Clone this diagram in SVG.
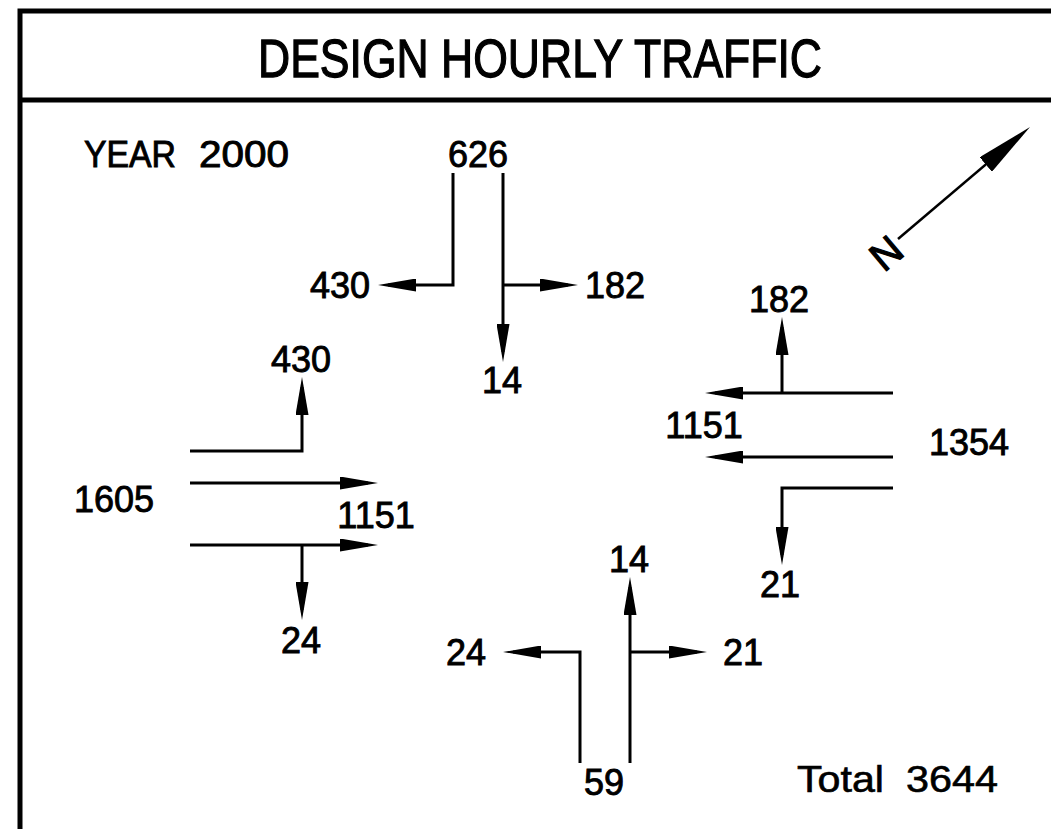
<svg xmlns="http://www.w3.org/2000/svg" width="1051" height="829" viewBox="0 0 1051 829">
<style>
  .t { font-family: "Liberation Sans", Arial, sans-serif; font-size: 36px; fill: #000; stroke: #000; stroke-width: 0.9; text-anchor: middle; }
  .s { text-anchor: start; }
  .title { font-family: "Liberation Sans", Arial, sans-serif; font-size: 54px; fill: #000; stroke: #000; stroke-width: 1.3; text-anchor: middle; }
  .frame { fill: none; stroke: #000; stroke-width: 5; }
  .flow { fill: none; stroke: #000; stroke-width: 3; marker-end: url(#ah); }
</style>
<defs>
  <marker id="ah" markerUnits="userSpaceOnUse" viewBox="0 0 38 13" markerWidth="38" markerHeight="13" refX="28" refY="6.5" orient="auto">
    <path d="M0,0 L38,6.5 L0,13 Z" fill="#000"/>
  </marker>
  <marker id="ahN" markerUnits="userSpaceOnUse" viewBox="0 0 58 19" markerWidth="58" markerHeight="19" refX="46" refY="9.5" orient="auto">
    <path d="M0,0 L58,9.5 L0,19 Z" fill="#000"/>
  </marker>
</defs>
<rect width="1051" height="829" fill="#fff"/>
<g id="frame">
  <path class="frame" d="M20,829 V11 H1051"/>
  <line class="frame" x1="20" y1="100" x2="1051" y2="100"/>
  <text class="title" x="540" y="77" textLength="564" lengthAdjust="spacingAndGlyphs">DESIGN HOURLY TRAFFIC</text>
</g>
<g id="labels">
  <text class="t s" x="84" y="167"><tspan textLength="92" lengthAdjust="spacingAndGlyphs">YEAR</tspan> <tspan x="199" textLength="90" lengthAdjust="spacingAndGlyphs">2000</tspan></text>
  <text class="t s" x="797" y="792" style="stroke-width:0.6"><tspan textLength="87" lengthAdjust="spacingAndGlyphs">Total</tspan> <tspan x="906" textLength="92" lengthAdjust="spacingAndGlyphs">3644</tspan></text>
</g>
<g id="north">
  <line x1="898" y1="239" x2="1020.85" y2="134.76" stroke="#000" stroke-width="2.5" marker-end="url(#ahN)"/>
  <text class="t" transform="translate(886,253) rotate(-40)" x="0" y="14" style="font-size:40px;stroke-width:1.2">N</text>
</g>
<g id="connectors">
  <path class="flow" d="M453,173 V285 H388"/>
  <path class="flow" d="M503,173 V352"/>
  <path class="flow" d="M503,285 H568"/>
  <path class="flow" d="M190,451 H302 V387"/>
  <path class="flow" d="M190,483 H368"/>
  <path class="flow" d="M190,545 H368"/>
  <path class="flow" d="M302,545 V610"/>
  <path class="flow" d="M893,393 H715"/>
  <path class="flow" d="M782,393 V327"/>
  <path class="flow" d="M893,457 H715"/>
  <path class="flow" d="M893,488 H782 V555"/>
  <path class="flow" d="M630,763 V587"/>
  <path class="flow" d="M630,652 H697"/>
  <path class="flow" d="M580,763 V652 H513"/>
</g>
<g id="north-approach">
  <text class="t" x="478" y="167">626</text>
  <text class="t" x="340" y="298">430</text>
  <text class="t" x="615" y="298">182</text>
  <text class="t" x="502" y="393">14</text>
</g>
<g id="west-approach">
  <text class="t" x="301" y="372">430</text>
  <text class="t" x="114" y="512">1605</text>
  <text class="t" x="376" y="528">1151</text>
  <text class="t" x="301" y="653">24</text>
</g>
<g id="east-approach">
  <text class="t" x="779" y="312">182</text>
  <text class="t" x="704" y="438">1151</text>
  <text class="t" x="969" y="455">1354</text>
  <text class="t" x="780" y="597">21</text>
</g>
<g id="south-approach">
  <text class="t" x="629" y="572">14</text>
  <text class="t" x="743" y="665">21</text>
  <text class="t" x="466" y="665">24</text>
  <text class="t" x="604" y="795">59</text>
</g>
</svg>
